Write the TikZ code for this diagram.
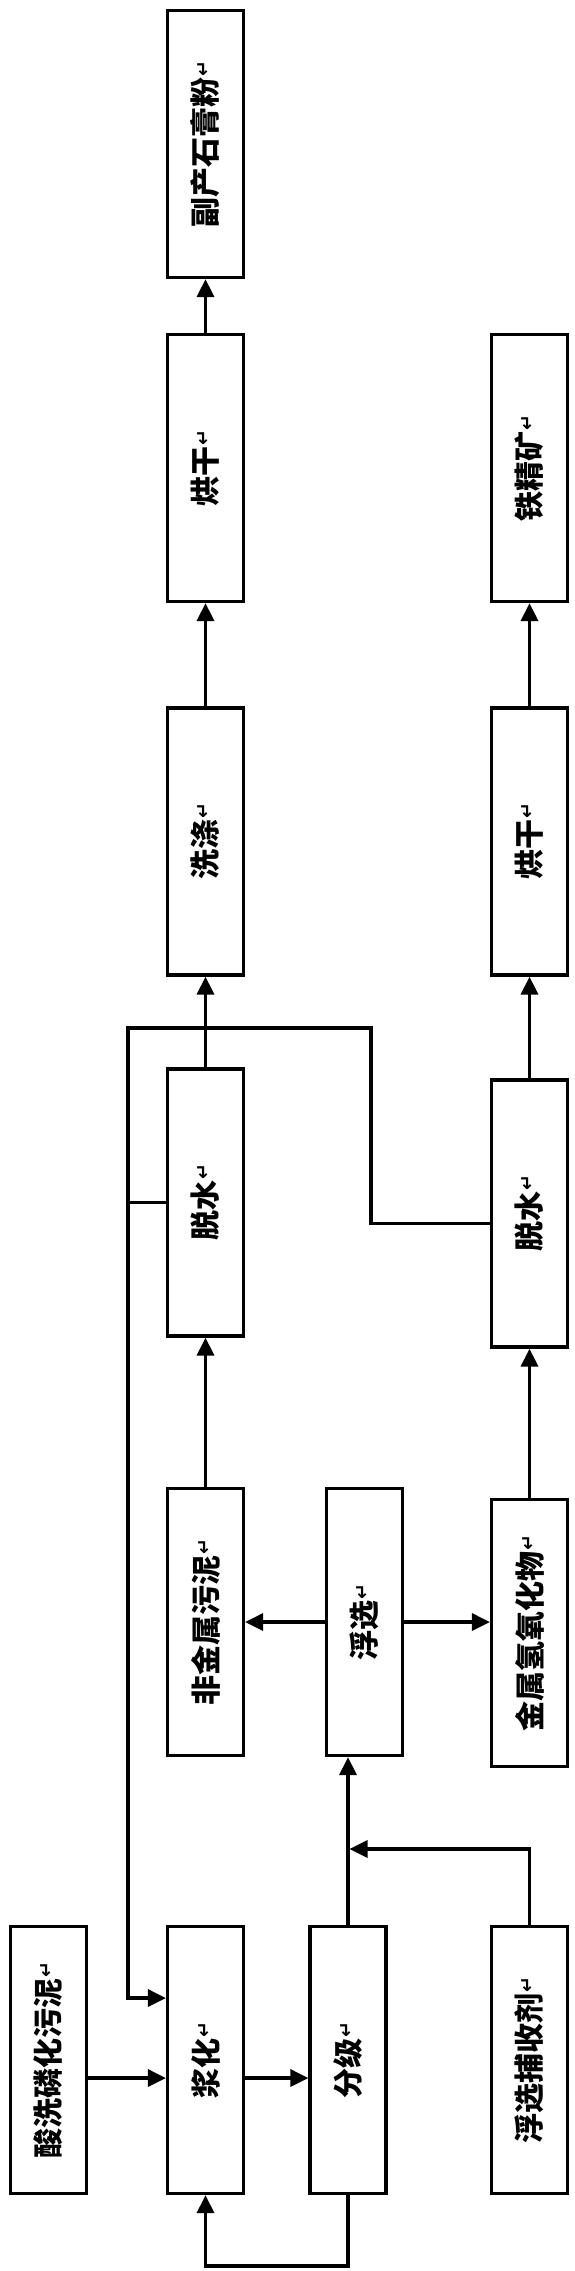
\documentclass[tikz,border=0pt]{standalone}
\usepackage{fontspec}
\usepackage{graphicx}
\usetikzlibrary{arrows.meta,calc}
\newfontfamily\cjk{Noto Sans CJK SC}
\newfontfamily\symf{DejaVu Sans}
\newcommand\lbl[1]{\rotatebox{90}{#1\hspace{1pt}\raisebox{7pt}{\symf\fontsize{19}{19}\selectfont ↵}}}
\tikzset{
  box/.style={draw, line width=3.2pt, minimum width=76pt, minimum height=267pt, inner sep=0pt,
    font=\cjk\bfseries\fontsize{30}{30}\selectfont},
  arr/.style={line width=3.2pt, -{Triangle[length=18pt,width=17pt]}},
  ln/.style={line width=3.2pt}
}
\begin{document}
\begin{tikzpicture}[x=1pt,y=-1pt]
\useasboundingbox (0,0) rectangle (575,2271);
% nodes
\node[box] (A) at (48.5,2060) {\lbl{酸洗磷化污泥}};
\node[box] (B) at (205.5,2060) {\lbl{浆化}};
\node[box] (C) at (348,2060) {\lbl{分级}};
\node[box] (D) at (529.5,2060) {\lbl{浮选捕收剂}};
\node[box] (E) at (205.5,1622) {\lbl{非金属污泥}};
\node[box] (F) at (364.5,1622) {\lbl{浮选}};
\node[box] (G) at (529.5,1633) {\lbl{金属氢氧化物}};
\node[box] (H) at (205.5,1202.5) {\lbl{脱水}};
\node[box] (I) at (529.5,1213.5) {\lbl{脱水}};
\node[box] (J) at (205.5,841.5) {\lbl{洗涤}};
\node[box] (K) at (529.5,841.5) {\lbl{烘干}};
\node[box] (L) at (205.5,468) {\lbl{烘干}};
\node[box] (M) at (529.5,468) {\lbl{铁精矿}};
\node[box] (N) at (205.5,144) {\lbl{副产石膏粉}};
% helper coordinates
\coordinate (jy) at (0,1849);
\coordinate (by) at (0,2266);
\coordinate (wl) at (128,1028);
\coordinate (wr) at (371,1028);
\coordinate (bw) at ($(B.west)+(0,-62)$);
\coordinate (iw) at ($(I.west)+(0,10)$);
% connectors
\draw[arr] ($(A.east)+(0,18)$) -- ($(B.west)+(0,18)$);
\draw[arr] ($(B.east)+(0,18)$) -- ($(C.west)+(0,18)$);
\draw[arr] (C.north) -- (C.north |- F.south);
\draw[arr] (D.north) -- (D.north |- jy) -- ($(C.north |- jy)+(1.5,0)$);
\draw[arr] (C.south) -- (C.south |- by) -- (B.south |- by) -- (B.south);
\draw[arr] (F.west) -- (E.east);
\draw[arr] (F.east) -- (F.east -| G.west);
\draw[arr] (E.north) -- (H.south);
\draw[arr] (G.north) -- (I.south);
\draw[arr] (H.north) -- (J.south);
\draw[arr] (I.north) -- (K.south);
\draw[arr] (J.north) -- (L.south);
\draw[arr] (K.north) -- (M.south);
\draw[arr] (L.north) -- (N.south);
\draw[ln] (H.west) -- (H.west -| wl);
\draw[arr] (iw) -- (iw -| wr) -- (wr) -- (wl) -- (wl |- bw) -- (bw);
\end{tikzpicture}
\end{document}
